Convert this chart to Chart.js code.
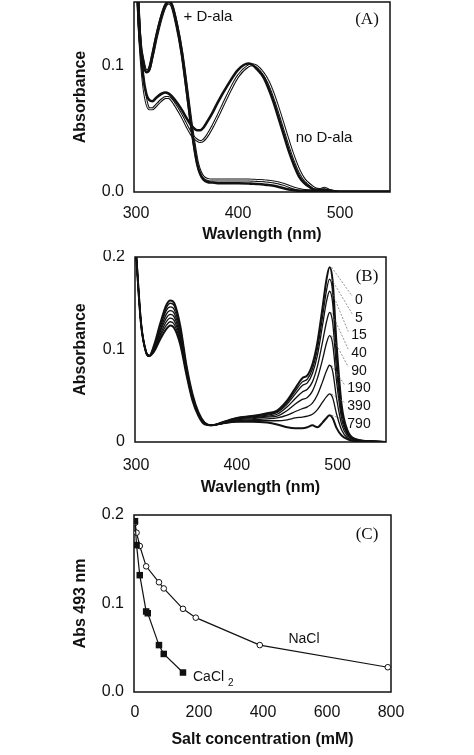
<!DOCTYPE html>
<html>
<head>
<meta charset="utf-8">
<script src="https://cdn.jsdelivr.net/npm/chart.js@4.4.1/dist/chart.umd.min.js"></script>
<style>
    html, body { margin: 0; padding: 0; background: #fff; }
    body { width: 474px; height: 755px; position: relative; overflow: hidden; }
    canvas { position: absolute; left: 0; }
</style>
</head>
<body>
<canvas id="panelA" width="474" height="250" style="top:0"></canvas>
<canvas id="panelB" width="474" height="250" style="top:250px"></canvas>
<canvas id="panelC" width="474" height="255" style="top:500px"></canvas>
<script>
// ─── Data ─────────────────────────────────────────────────────────────────────

// (A) spectra with and without D-alanine (two runs each)
const wavelengthA = [300, 302, 304, 307, 310, 313, 316, 320, 325, 329, 332, 335, 340, 345, 350, 355, 360, 363, 366, 370,
    375, 380, 390, 400, 410, 414, 418, 425, 430, 435, 440, 445, 450, 455, 460, 465, 470, 475, 480, 485, 490, 500, 520, 550];
const plusDalaA = [0.20, 0.15, 0.12, 0.103, 0.095, 0.097, 0.108, 0.124, 0.140, 0.149, 0.151, 0.149, 0.133, 0.110, 0.079, 0.047, 0.022, 0.014, 0.010, 0.008,
    0.0075, 0.007, 0.007, 0.007, 0.0068, 0.0066, 0.0064, 0.006, 0.0055, 0.005, 0.004, 0.003, 0.002, 0.0015, 0.001, 0.001, 0.0008, 0.0006, 0.0005, 0.001, 0.0005, 0, 0, 0];
const plusDalaB = [0.20, 0.15, 0.12, 0.104, 0.096, 0.098, 0.108, 0.123, 0.139, 0.148, 0.150, 0.148, 0.132, 0.110, 0.080, 0.049, 0.024, 0.016, 0.012, 0.010,
    0.0095, 0.0095, 0.0095, 0.0095, 0.0095, 0.0094, 0.0092, 0.009, 0.0085, 0.008, 0.0072, 0.006, 0.0045, 0.003, 0.002, 0.0012, 0.001, 0.0008, 0.0008, 0.002, 0.001, 0, 0, 0];
const noDalaA = [0.20, 0.15, 0.12, 0.092, 0.078, 0.073, 0.072, 0.075, 0.078, 0.079, 0.078, 0.076, 0.071, 0.065, 0.058, 0.052, 0.049, 0.049, 0.051, 0.056,
    0.063, 0.071, 0.085, 0.097, 0.102, 0.101, 0.098, 0.091, 0.082, 0.071, 0.058, 0.045, 0.032, 0.021, 0.012, 0.007, 0.004, 0.002, 0.002, 0.002, 0.001, 0, 0, 0];
const noDalaB = [0.20, 0.15, 0.118, 0.088, 0.072, 0.066, 0.066, 0.069, 0.073, 0.075, 0.075, 0.073, 0.067, 0.060, 0.052, 0.045, 0.041, 0.040, 0.041, 0.045,
    0.052, 0.060, 0.077, 0.092, 0.100, 0.101, 0.100, 0.094, 0.087, 0.077, 0.065, 0.052, 0.039, 0.027, 0.017, 0.010, 0.006, 0.003, 0.002, 0.003, 0.001, 0, 0, 0];

// (B) spectra at increasing NaCl (mM)
const wavelengthB = [300, 305, 310, 313, 318, 324, 330, 334, 338, 344, 350, 356, 362, 368, 375, 385, 400, 415, 430, 440,
    450, 458, 465, 470, 475, 480, 485, 489, 492, 495, 499, 504, 510, 518, 530, 550];
const saltLabelsB = ['0', '5', '15', '40', '90', '190', '390', '790'];
const spectraB = [
    [0.205, 0.128, 0.097, 0.093, 0.105, 0.128, 0.148, 0.153, 0.150, 0.125, 0.083, 0.052, 0.032, 0.021, 0.018, 0.021, 0.026, 0.028, 0.031, 0.034,
        0.045, 0.058, 0.069, 0.072, 0.084, 0.108, 0.145, 0.176, 0.189, 0.175, 0.105, 0.040, 0.012, 0.003, 0.001, 0],
    [0.205, 0.128, 0.097, 0.093, 0.104, 0.126, 0.145, 0.150, 0.147, 0.123, 0.082, 0.051, 0.031, 0.021, 0.018, 0.021, 0.026, 0.028, 0.030, 0.033,
        0.043, 0.055, 0.065, 0.068, 0.079, 0.101, 0.135, 0.164, 0.176, 0.163, 0.098, 0.037, 0.011, 0.003, 0.001, 0],
    [0.205, 0.128, 0.097, 0.093, 0.103, 0.124, 0.142, 0.146, 0.143, 0.120, 0.080, 0.050, 0.031, 0.021, 0.018, 0.021, 0.025, 0.027, 0.029, 0.032,
        0.041, 0.052, 0.061, 0.064, 0.074, 0.094, 0.126, 0.152, 0.163, 0.151, 0.091, 0.034, 0.010, 0.003, 0.001, 0],
    [0.205, 0.128, 0.097, 0.093, 0.102, 0.121, 0.138, 0.142, 0.139, 0.117, 0.079, 0.049, 0.030, 0.020, 0.018, 0.020, 0.025, 0.026, 0.028, 0.030,
        0.038, 0.047, 0.054, 0.057, 0.065, 0.082, 0.108, 0.130, 0.140, 0.130, 0.078, 0.030, 0.009, 0.003, 0.001, 0],
    [0.205, 0.128, 0.097, 0.093, 0.101, 0.119, 0.134, 0.138, 0.135, 0.114, 0.077, 0.048, 0.030, 0.020, 0.018, 0.020, 0.024, 0.025, 0.027, 0.028,
        0.034, 0.041, 0.046, 0.048, 0.055, 0.069, 0.089, 0.107, 0.115, 0.107, 0.065, 0.025, 0.008, 0.002, 0.001, 0],
    [0.205, 0.128, 0.097, 0.093, 0.100, 0.116, 0.130, 0.134, 0.131, 0.111, 0.076, 0.047, 0.029, 0.020, 0.018, 0.020, 0.023, 0.024, 0.025, 0.026,
        0.029, 0.033, 0.036, 0.038, 0.042, 0.051, 0.065, 0.077, 0.083, 0.077, 0.047, 0.019, 0.006, 0.002, 0.001, 0],
    [0.205, 0.128, 0.097, 0.093, 0.099, 0.114, 0.126, 0.130, 0.127, 0.108, 0.074, 0.046, 0.029, 0.020, 0.018, 0.020, 0.022, 0.023, 0.023, 0.023,
        0.024, 0.026, 0.027, 0.028, 0.030, 0.035, 0.043, 0.049, 0.052, 0.048, 0.030, 0.013, 0.004, 0.001, 0.001, 0],
    [0.205, 0.128, 0.097, 0.093, 0.098, 0.111, 0.122, 0.126, 0.123, 0.105, 0.073, 0.045, 0.028, 0.019, 0.018, 0.020, 0.022, 0.022, 0.021, 0.019,
        0.016, 0.015, 0.015, 0.016, 0.018, 0.016, 0.021, 0.026, 0.029, 0.026, 0.015, 0.007, 0.003, 0.001, 0.001, 0],
];

// (C) absorbance at 493 nm vs salt concentration (mM)
const naclConc = [0, 5, 15, 35, 75, 90, 150, 190, 390, 790];
const naclAbs = [0.191, 0.180, 0.165, 0.142, 0.124, 0.117, 0.094, 0.084, 0.053, 0.028];
const cacl2Conc = [0, 5, 15, 35, 40, 75, 90, 150];
const cacl2Abs = [0.193, 0.166, 0.132, 0.091, 0.089, 0.053, 0.043, 0.022];

// tick values and labels
const wlTicks = [300, 400, 500];
const wlTickLabels = ['300', '400', '500'];
const absTicksA = [0, 0.1];
const absTickLabelsA = ['0.0', '0.1'];
const absTicksB = [0, 0.1, 0.2];
const absTickLabelsB = ['0', '0.1', '0.2'];
const saltTicks = [0, 200, 400, 600, 800];
const saltTickLabels = ['0', '200', '400', '600', '800'];
const absTicksC = [0, 0.1, 0.2];
const absTickLabelsC = ['0.0', '0.1', '0.2'];

// ─── Shared config ────────────────────────────────────────────────────────────

const sans = '"Liberation Sans", Arial, sans-serif';
const serif = '"Liberation Serif", "Times New Roman", serif';
const ink = '#111';
const tickFont = { family: sans, size: 16 };
const titleFont = { family: sans, size: 16, weight: 'bold' };

const toPoints = (xs, ys) => xs.map((x, i) => ({ x, y: ys[i] }));

const framePlugin = {
    id: 'frame',
    beforeDatasetsDraw(chart) {
        const { ctx, chartArea: a } = chart;
        ctx.save();
        ctx.strokeStyle = ink;
        ctx.lineWidth = 1.5;
        ctx.strokeRect(a.left, a.top, a.right - a.left, a.bottom - a.top);
        ctx.restore();
    },
};

function text(ctx, str, x, y, font, align = 'center') {
    ctx.font = font;
    ctx.fillStyle = ink;
    ctx.textAlign = align;
    ctx.textBaseline = 'middle';
    ctx.fillText(str, x, y);
}

function makePanel(p) {
    const el = document.getElementById(p.id);
    const H = el.height;
    const pad = { left: 71, right: 474 - p.area.right, top: p.area.top, bottom: p.bottomPad };

    return new Chart(el, {
        type: 'line',
        data: { datasets: p.datasets },
        options: {
            responsive: false,
            animation: false,
            layout: { padding: pad },
            elements: { point: { radius: 0 } },
            plugins: { legend: { display: false }, tooltip: { enabled: false } },
            scales: {
                x: {
                    type: 'linear',
                    min: p.x.min,
                    max: p.x.max,
                    grid: { display: false, drawTicks: false },
                    border: { display: false },
                    afterBuildTicks: s => { s.ticks = p.x.ticks.map(value => ({ value })); },
                    afterFit: s => {
                        s.height = H - pad.bottom - p.area.bottom;
                        s.paddingLeft = 0;
                        s.paddingRight = 0;
                    },
                    ticks: {
                        font: tickFont, color: ink, padding: p.x.pad, maxRotation: 0, autoSkip: false,
                        callback: (v, i) => p.x.labels[i],
                    },
                    title: { display: true, text: p.x.title, font: titleFont, color: ink, padding: 0 },
                },
                y: {
                    min: p.y.min,
                    max: p.y.max,
                    grid: { display: false, drawTicks: false },
                    border: { display: false },
                    afterBuildTicks: s => { s.ticks = p.y.ticks.map(value => ({ value })); },
                    afterFit: s => {
                        s.width = p.area.left - pad.left;
                        s.paddingTop = 0;
                        s.paddingBottom = 0;
                    },
                    ticks: {
                        font: tickFont, color: ink, padding: 10, autoSkip: false,
                        callback: (v, i) => p.y.labels[i],
                    },
                    title: { display: true, text: p.y.title, font: titleFont, color: ink, padding: 0 },
                },
            },
        },
        plugins: [framePlugin, p.notes],
    });
}

// ─── Panel A ──────────────────────────────────────────────────────────────────

const thickLine = { borderColor: ink, borderWidth: 2.6, cubicInterpolationMode: 'monotone', order: 0 };
const hollowOuter = { borderColor: ink, borderWidth: 3, cubicInterpolationMode: 'monotone', order: 2 };
const hollowInner = { borderColor: '#fff', borderWidth: 1, cubicInterpolationMode: 'monotone', order: 1 };

makePanel({
    id: 'panelA',
    area: { left: 134, right: 390, top: 2, bottom: 192 },
    bottomPad: 6,
    x: { min: 298, max: 549, ticks: wlTicks, labels: wlTickLabels, title: 'Wavlength (nm)', pad: 12 },
    y: { min: 0, max: 0.1508, ticks: absTicksA, labels: absTickLabelsA, title: 'Absorbance' },
    datasets: [
        { ...thickLine, data: toPoints(wavelengthA, plusDalaA) },
        { ...thickLine, data: toPoints(wavelengthA, noDalaA) },
        { ...hollowInner, data: toPoints(wavelengthA, plusDalaB) },
        { ...hollowOuter, data: toPoints(wavelengthA, plusDalaB) },
        { ...hollowInner, data: toPoints(wavelengthA, noDalaB) },
        { ...hollowOuter, data: toPoints(wavelengthA, noDalaB) },
    ],
    notes: {
        id: 'notesA',
        afterDraw(chart) {
            const { ctx } = chart;
            ctx.save();
            text(ctx, '+ D-ala', 208, 17, `15px ${sans}`);
            text(ctx, 'no D-ala', 324, 138, `15px ${sans}`);
            text(ctx, '(A)', 367, 20, `17px ${serif}`);
            ctx.restore();
        },
    },
});

// ─── Panel B ──────────────────────────────────────────────────────────────────

makePanel({
    id: 'panelB',
    area: { left: 135, right: 386, top: 7, bottom: 192 },
    bottomPad: 3,
    x: { min: 299, max: 548, ticks: wlTicks, labels: wlTickLabels, title: 'Wavlength (nm)', pad: 14 },
    y: { min: 0, max: 0.2, ticks: absTicksB, labels: absTickLabelsB, title: 'Absorbance' },
    datasets: spectraB.map((s, i) => ({
        data: toPoints(wavelengthB, s),
        borderColor: ink,
        borderWidth: i === 0 || i === spectraB.length - 1 ? 2 : 1.3,
        cubicInterpolationMode: 'monotone',
    })),
    notes: {
        id: 'notesB',
        afterDraw(chart) {
            const { ctx, chartArea: a, scales: { x, y } } = chart;
            ctx.save();
            text(ctx, '(B)', a.right - 19, 27, `17px ${serif}`);
            const peakIdx = wavelengthB.indexOf(492);
            const labelX = a.right - 27;
            ctx.font = `14px ${sans}`;
            saltLabelsB.forEach((lab, i) => {
                const ly = a.top + 43 + i * 17.7;
                const px = x.getPixelForValue(wavelengthB[peakIdx]) + 2;
                const py = y.getPixelForValue(spectraB[i][peakIdx]);
                const w = ctx.measureText(lab).width;
                ctx.save();
                ctx.strokeStyle = '#666';
                ctx.lineWidth = 0.7;
                ctx.setLineDash([2, 1.5]);
                ctx.beginPath();
                ctx.moveTo(px, py);
                ctx.lineTo(labelX - w / 2 - 3, ly - 4);
                ctx.stroke();
                ctx.restore();
                text(ctx, lab, labelX, ly, `14px ${sans}`);
            });
            ctx.restore();
        },
    },
});

// ─── Panel C ──────────────────────────────────────────────────────────────────

makePanel({
    id: 'panelC',
    area: { left: 134, right: 391, top: 15, bottom: 192 },
    bottomPad: 6,
    x: { min: -3, max: 800, ticks: saltTicks, labels: saltTickLabels, title: 'Salt concentration (mM)', pad: 11 },
    y: { min: 0, max: 0.2, ticks: absTicksC, labels: absTickLabelsC, title: 'Abs 493 nm' },
    datasets: [
        {
            data: toPoints(cacl2Conc, cacl2Abs),
            borderColor: ink,
            borderWidth: 1.2,
            pointStyle: 'rect',
            pointRadius: 4.6,
            pointBackgroundColor: ink,
            pointBorderColor: ink,
            pointBorderWidth: 0,
        },
        {
            data: toPoints(naclConc, naclAbs),
            borderColor: ink,
            borderWidth: 1.2,
            pointStyle: 'circle',
            pointRadius: 2.8,
            pointBackgroundColor: '#fff',
            pointBorderColor: ink,
            pointBorderWidth: 1,
        },
    ],
    notes: {
        id: 'notesC',
        afterDraw(chart) {
            const { ctx } = chart;
            ctx.save();
            text(ctx, '(C)', 367, 35, `17px ${serif}`);
            text(ctx, 'NaCl', 304, 139, `14px ${sans}`);
            text(ctx, 'CaCl', 193, 177, `14px ${sans}`, 'left');
            text(ctx, '2', 228, 183, `10px ${sans}`, 'left');
            ctx.restore();
        },
    },
});
</script>
</body>
</html>
